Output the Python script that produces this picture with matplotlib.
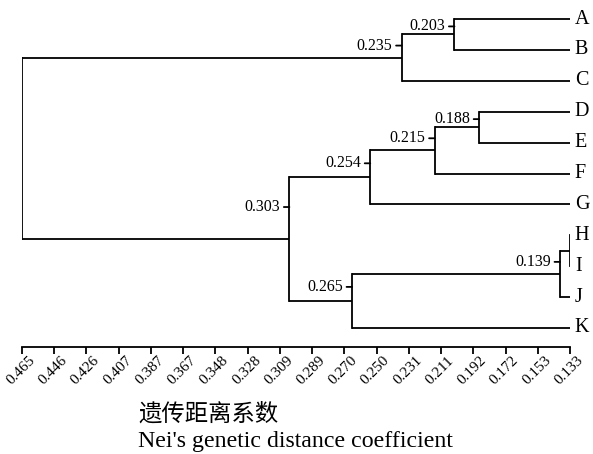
import matplotlib
matplotlib.use("Agg")
import matplotlib.pyplot as plt
import matplotlib.transforms as mtransforms
import numpy as np

# leaves from top to bottom
leaves = ["A", "B", "C", "D", "E", "F", "G", "H", "I", "J", "K"]
leaf_dist = 0.133

# merges: (name, left child, right child, distance, label)
merges = [
    ("AB", "A", "B", 0.203, "0.203"),
    ("ABC", "AB", "C", 0.235, "0.235"),
    ("DE", "D", "E", 0.188, "0.188"),
    ("DEF", "DE", "F", 0.215, "0.215"),
    ("DEFG", "DEF", "G", 0.254, "0.254"),
    ("HI", "H", "I", 0.1332, ""),
    ("HIJ", "HI", "J", 0.139, "0.139"),
    ("HIJK", "HIJ", "K", 0.265, "0.265"),
    ("DK", "DEFG", "HIJK", 0.303, "0.303"),
    ("root", "ABC", "DK", 0.465, ""),
]

tick_labels = ["0.465", "0.446", "0.426", "0.407", "0.387", "0.367", "0.348",
               "0.328", "0.309", "0.289", "0.270", "0.250", "0.231", "0.211",
               "0.192", "0.172", "0.153", "0.133"]

serif = ["Liberation Serif", "DejaVu Serif"]

W, H = 593, 454
fig = plt.figure(figsize=(W / 100, H / 100), dpi=100)
# axes placed in pixels: x 22..570, leaf rows 19..328, spine at 347
left, right = 22, 570
top_px, bot_px = 19, 328
step = (bot_px - top_px) / (len(leaves) - 1)
spine_px = 347
ax_top = 5
ax = fig.add_axes([left / W, 1 - spine_px / H, (right - left) / W,
                   (spine_px - ax_top) / H])
ax.set_xlim(0.465, 0.133)
ax.set_ylim((spine_px - top_px) / step, -(top_px - ax_top) / step)

pos = {name: (leaf_dist, i) for i, name in enumerate(leaves)}
lw = 1.3
# leaf label
for name in leaves:
    x, y = pos[name]
    ax.annotate(name, (x, y), xytext=(3.5, 0), textcoords="offset points",
                ha="left", va="center", fontsize=14.5, family=serif,
                annotation_clip=False)

for name, a, b, d, lab in merges:
    xa, ya = pos[a]
    xb, yb = pos[b]
    ax.plot([xa, d], [ya, ya], color="black", lw=lw, solid_capstyle="butt")
    ax.plot([xb, d], [yb, yb], color="black", lw=lw, solid_capstyle="butt")
    ax.plot([d, d], [ya, yb], color="black", lw=lw, solid_capstyle="projecting")
    ym = (ya + yb) / 2
    pos[name] = (d, ym)
    if lab:
        yl = ya + 0.24 * (yb - ya)
        ax.annotate("", (d, yl), xytext=(-4, 0), textcoords="offset points",
                    arrowprops=dict(arrowstyle="-", color="black", lw=lw,
                                    shrinkA=0, shrinkB=0))
        ax.annotate(lab, (d, yl), xytext=(-6.5, 0), textcoords="offset points",
                    ha="right", va="center", fontsize=11.5, family=serif)

for s in ["top", "left", "right"]:
    ax.spines[s].set_visible(False)
ax.spines["bottom"].set_linewidth(lw)
ax.set_yticks([])
ticks = np.linspace(0.465, 0.133, len(tick_labels))
ax.set_xticks(ticks)
ax.set_xticklabels(tick_labels, rotation=45, ha="right", va="center",
                   rotation_mode="anchor", family=serif, fontsize=11)
ax.tick_params(axis="x", direction="out", length=5, width=lw, pad=2)
shift = mtransforms.ScaledTranslation(11 / 100, -2 / 100, fig.dpi_scale_trans)
for t in ax.get_xticklabels():
    t.set_transform(t.get_transform() + shift)

fig.text(138 / W, 1 - 421 / H, "遗传距离系数", ha="left", va="baseline",
         fontsize=16.8, family=["Noto Sans CJK SC", "DejaVu Sans"])
fig.text(138 / W, 1 - 447 / H, "Nei's genetic distance coefficient",
         ha="left", va="baseline", fontsize=17.2, family=serif)

fig.savefig("out.png", dpi=100)
